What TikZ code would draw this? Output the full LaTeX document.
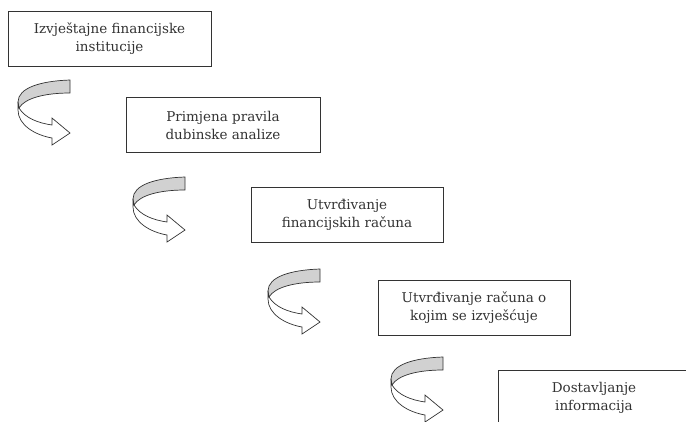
\documentclass[tikz,border=0pt]{standalone}
\usepackage{fontspec}
\setmainfont{DejaVu Serif}
\definecolor{bandgray}{gray}{0.82}
\definecolor{inkgray}{gray}{0.2}

\begin{document}
\begin{tikzpicture}[x=1pt,y=-1pt,
  stepbox/.style={draw=inkgray,line width=1pt,text=inkgray,align=center,inner sep=0pt,
    minimum height=55pt,font=\fontsize{13.5}{18}\selectfont},
  turn/.pic={
    \filldraw[fill=bandgray,draw=inkgray,line width=.7pt] (0,0) .. controls (-30,1) and (-52,8) .. (-52,22)
      -- (-51,28) .. controls (-45,18) and (-25,13) .. (0,13) -- cycle;
    \filldraw[fill=white,draw=inkgray,line width=.7pt] (-52,22) -- (-52,30) .. controls (-52,45) and (-35,55) .. (-18,58)
      -- (-18,65) -- (0,53) -- (-18,38) -- (-18,45) .. controls (-32,43) and (-45,38) .. (-51,28) -- cycle;
  }]
\useasboundingbox (0,0) rectangle (686,421);
\clip (0,0) rectangle (686,421);
\node[stepbox,minimum width=203pt] (s1) at (109.5,38.5) {Izvještajne financijske\\institucije};
\node[stepbox,minimum width=194pt] (s2) at (223,125) {Primjena pravila\\dubinske analize};
\node[stepbox,minimum width=192pt] (s3) at (347,215) {Utvrđivanje\\financijskih računa};
\node[stepbox,minimum width=192pt] (s4) at (474,308) {Utvrđivanje računa o\\kojim se izvješćuje};
\node[stepbox,minimum width=192pt] (s5) at (594,398) {Dostavljanje\\informacija};
\pic at (70,80) {turn};
\pic at (185,177) {turn};
\pic at (320,269) {turn};
\pic at (443,357) {turn};
\end{tikzpicture}
\end{document}
